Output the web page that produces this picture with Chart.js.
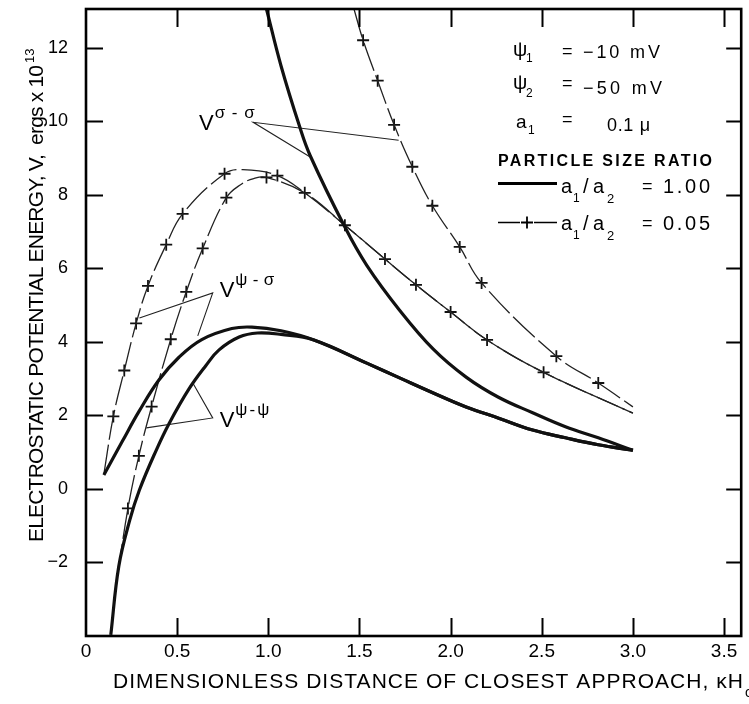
<!DOCTYPE html>
<html>
<head>
<meta charset="utf-8">
<title>Electrostatic potential energy</title>
<script src="https://cdn.jsdelivr.net/npm/chart.js@4.4.1/dist/chart.umd.min.js"></script>
<style>
  html, body { margin: 0; padding: 0; background: #fff; }
  #wrap { width: 749px; height: 704px; }
</style>
</head>
<body>
<div id="wrap"><canvas id="chart" width="749" height="704"></canvas></div>
<script>
// ticks
var xTickValues = [0, 0.5, 1.0, 1.5, 2.0, 2.5, 3.0, 3.5];
var xTickLabels = ['0', '0.5', '1.0', '1.5', '2.0', '2.5', '3.0', '3.5'];
var yTickValues = [-2, 0, 2, 4, 6, 8, 10, 12];
var yTickLabels = ['\u22122', '0', '2', '4', '6', '8', '10', '12'];

// a1/a2 = 1.00 (solid curves)
var psiPsiX = [0.136, 0.18, 0.24, 0.293, 0.385, 0.456, 0.565, 0.657, 0.73, 0.84, 0.94, 1.07];
var psiPsiY = [-3.97, -2.1, -0.85, -0.03, 1.05, 1.78, 2.72, 3.35, 3.78, 4.13, 4.24, 4.2];
var psiSigX = [0.098, 0.2, 0.29, 0.4, 0.51, 0.635, 0.8, 0.91, 1.07];
var psiSigY = [0.38, 1.3, 2.1, 2.96, 3.58, 4.06, 4.36, 4.4, 4.3];
var psiTailX = [1.25, 1.54, 1.72, 1.905, 2.085, 2.26, 2.45, 2.63, 2.81, 3.0];
var psiTailY = [4.05, 3.42, 3.02, 2.61, 2.23, 1.93, 1.6, 1.39, 1.2, 1.05];
var sigSigX = [0.99, 1.07, 1.17, 1.23, 1.42, 1.54, 1.72, 1.905, 2.085, 2.26, 2.45, 2.63, 2.81, 3.0];
var sigSigY = [13.05, 11.5, 9.88, 9.06, 7.12, 6.08, 4.86, 3.8, 3.04, 2.5, 2.07, 1.69, 1.39, 1.05];

// a1/a2 = 0.05 (dashed curves with crosses)
var dPsiSigX = [0.098, 0.15, 0.21, 0.275, 0.34, 0.44, 0.53, 0.76, 0.86, 1.05];
var dPsiSigY = [0.4, 1.97, 3.22, 4.5, 5.52, 6.64, 7.48, 8.57, 8.68, 8.52];
var dPsiPsiX = [0.175, 0.23, 0.29, 0.36, 0.465, 0.55, 0.64, 0.77, 0.85, 0.92, 0.99];
var dPsiPsiY = [-2.3, -0.53, 0.9, 2.24, 4.07, 5.36, 6.54, 7.92, 8.28, 8.44, 8.47];
var dTailX = [1.2, 1.42, 1.64, 1.81, 2.0, 2.2, 2.51, 3.0];
var dTailY = [8.05, 7.17, 6.25, 5.55, 4.81, 4.05, 3.17, 2.06];
var dSigSigX = [1.47, 1.52, 1.6, 1.69, 1.79, 1.9, 2.05, 2.17, 2.58, 2.81, 3.0];
var dSigSigY = [13.05, 12.2, 11.1, 9.9, 8.76, 7.7, 6.58, 5.6, 3.61, 2.88, 2.23];

// points marked with a cross
var crossX = [0.15, 0.21, 0.275, 0.34, 0.44, 0.53, 0.76, 1.05,
              0.23, 0.29, 0.36, 0.465, 0.55, 0.64, 0.77, 0.99,
              1.2, 1.42, 1.64, 1.81, 2.0, 2.2, 2.51,
              1.52, 1.6, 1.69, 1.79, 1.9, 2.05, 2.17, 2.58, 2.81];
var crossY = [1.97, 3.22, 4.5, 5.52, 6.64, 7.48, 8.57, 8.52,
              -0.53, 0.9, 2.24, 4.07, 5.36, 6.54, 7.92, 8.47,
              8.05, 7.17, 6.25, 5.55, 4.81, 4.05, 3.17,
              12.2, 11.1, 9.9, 8.76, 7.7, 6.58, 5.6, 3.61, 2.88];

// curve labels and leader lines
var noteSups = ['\u03c3-\u03c3', '\u03c8-\u03c3', '\u03c8-\u03c8'];
var noteX = [0.62, 0.733, 0.733];
var noteY = [9.76, 5.22, 1.68];
var leadSigX = [1.232, 0.917, 1.715];
var leadSigY = [9.02, 9.97, 9.48];
var leadPsiSigX = [0.293, 0.695, 0.613];
var leadPsiSigY = [4.65, 5.33, 4.16];
var leadPsiPsiX = [0.586, 0.695, 0.331];
var leadPsiPsiY = [2.88, 1.93, 1.66];

var FONT = '"Liberation Sans", Arial, sans-serif';

function pts(xs, ys) {
  return xs.map(function (x, i) { return { x: x, y: ys[i] }; });
}

function solidLine(xs, ys) {
  return { data: pts(xs, ys), showLine: true, borderColor: '#111', borderWidth: 3.2,
           pointRadius: 0, tension: 0.4 };
}
function dashLine(xs, ys) {
  return { data: pts(xs, ys), showLine: true, borderColor: '#222', borderWidth: 1.3,
           borderDash: [30, 5], pointRadius: 0, tension: 0.4 };
}
function leader(xs, ys) {
  return { data: pts(xs, ys), showLine: true, borderColor: '#222', borderWidth: 1.1,
           pointRadius: 0, tension: 0 };
}

// text squeezed or stretched to a given width
function spaced(ctx, text, x, y, width) {
  ctx.letterSpacing = '0px';
  var w = ctx.measureText(text).width;
  var sp = text.length > 1 ? (width - w) / (text.length - 1) : 0;
  ctx.letterSpacing = sp + 'px';
  ctx.fillText(text, x, y);
  ctx.letterSpacing = '0px';
}
function txt(ctx, text, x, y, size, width, weight) {
  ctx.font = (weight || '') + ' ' + size + 'px ' + FONT;
  if (width) spaced(ctx, text, x, y, width); else ctx.fillText(text, x, y);
}
function crossMark(ctx, x, y) {
  ctx.beginPath();
  ctx.moveTo(x - 6, y); ctx.lineTo(x + 6, y);
  ctx.moveTo(x, y - 6); ctx.lineTo(x, y + 6);
  ctx.stroke();
}

var decor = {
  id: 'decor',
  afterDraw: function (chart) {
    var ctx = chart.ctx, a = chart.chartArea;
    var xs = chart.scales.x, ys = chart.scales.y;
    ctx.save();
    ctx.strokeStyle = '#000';
    ctx.fillStyle = '#000';
    ctx.textAlign = 'left';
    ctx.textBaseline = 'alphabetic';

    // frame
    ctx.lineWidth = 2.6;
    ctx.strokeRect(a.left, a.top, a.right - a.left, a.bottom - a.top);

    // inward ticks on all four sides
    ctx.lineWidth = 2;
    ctx.beginPath();
    xTickValues.forEach(function (v) {
      if (v === 0) return;
      var p = Math.round(xs.getPixelForValue(v)) + 0.5;
      ctx.moveTo(p, a.bottom); ctx.lineTo(p, a.bottom - 18);
      ctx.moveTo(p, a.top); ctx.lineTo(p, a.top + 18);
    });
    yTickValues.forEach(function (v) {
      var p = Math.round(ys.getPixelForValue(v)) + 0.5;
      ctx.moveTo(a.left, p); ctx.lineTo(a.left + 17, p);
      ctx.moveTo(a.right, p); ctx.lineTo(a.right - 15, p);
    });
    ctx.stroke();

    // x title
    txt(ctx, 'DIMENSIONLESS DISTANCE OF CLOSEST APPROACH, \u03baH', 113, 688, 21, 630);
    txt(ctx, 'o', 745, 697, 14);

    // y title (rotated)
    ctx.save();
    ctx.translate(43, 542);
    ctx.rotate(-Math.PI / 2);
    txt(ctx, 'ELECTROSTATIC POTENTIAL ENERGY, V,  ergs x 10', 0, 0, 21, 477);
    txt(ctx, '13', 479, -9, 13);
    ctx.restore();

    // curve labels
    noteSups.forEach(function (s, i) {
      var px = xs.getPixelForValue(noteX[i]);
      var py = ys.getPixelForValue(noteY[i]);
      txt(ctx, 'V', px, py, 22);
      var w = ctx.measureText('V').width;
      txt(ctx, s, px + w + 1, py - 12, 17, [40, 39, 34][i]);
    });

    // parameter block
    txt(ctx, '\u03c8', 513, 56, 20);
    txt(ctx, '1', 526, 62, 12);
    txt(ctx, '=', 562, 57, 18);
    txt(ctx, '\u221210 mV', 583, 58, 18, 77);

    txt(ctx, '\u03c8', 513, 89, 20);
    txt(ctx, '2', 526, 97, 12);
    txt(ctx, '=', 562, 89, 18);
    txt(ctx, '\u221250 mV', 583, 94, 18, 79);

    txt(ctx, 'a', 516, 128, 19);
    txt(ctx, '1', 528, 134, 12);
    txt(ctx, '=', 562, 125, 18);
    txt(ctx, '0.1 \u03bc', 607, 131, 18, 43);

    txt(ctx, 'PARTICLE SIZE RATIO', 498, 166, 16, 214, 'bold');

    // legend samples
    ctx.lineWidth = 3.2;
    ctx.beginPath(); ctx.moveTo(498, 183.5); ctx.lineTo(557, 183.5); ctx.stroke();
    ctx.lineWidth = 1.3;
    ctx.beginPath();
    ctx.moveTo(498, 222.5); ctx.lineTo(520, 222.5);
    ctx.moveTo(534, 222.5); ctx.lineTo(557, 222.5);
    ctx.stroke();
    ctx.lineWidth = 1.8;
    crossMark(ctx, 527, 222.5);

    [[193, '1.00'], [230, '0.05']].forEach(function (r) {
      var b = r[0];
      txt(ctx, 'a', 561, b, 20);
      txt(ctx, '1', 573, b + 9, 12);
      txt(ctx, '/', 583, b, 20);
      txt(ctx, 'a', 593, b, 20);
      txt(ctx, '2', 607, b + 10, 13);
      txt(ctx, '=', 642, b - 1, 18);
      txt(ctx, r[1], 663, b, 20, 47);
    });

    ctx.restore();
  }
};

var crossSet = {
  data: pts(crossX, crossY), showLine: false, pointStyle: 'cross',
  pointRadius: 6, pointBorderWidth: 1.8, pointBorderColor: '#111', pointBackgroundColor: '#111'
};

new Chart(document.getElementById('chart'), {
  type: 'scatter',
  data: {
    datasets: [
      solidLine(psiPsiX.concat(psiTailX), psiPsiY.concat(psiTailY)),
      solidLine(psiSigX.concat(psiTailX), psiSigY.concat(psiTailY)),
      solidLine(sigSigX, sigSigY),
      dashLine(dPsiSigX.concat(dTailX), dPsiSigY.concat(dTailY)),
      dashLine(dPsiPsiX.concat(dTailX), dPsiPsiY.concat(dTailY)),
      dashLine(dSigSigX, dSigSigY),
      crossSet,
      leader(leadSigX, leadSigY),
      leader(leadPsiSigX, leadPsiSigY),
      leader(leadPsiPsiX, leadPsiPsiY)
    ]
  },
  options: {
    responsive: false,
    animation: false,
    events: [],
    layout: { padding: { left: 0, top: 9, right: 1, bottom: 0 } },
    plugins: { legend: { display: false }, tooltip: { enabled: false } },
    scales: {
      x: {
        type: 'linear', min: 0, max: 3.594,
        grid: { display: false, drawTicks: false },
        border: { display: false },
        afterBuildTicks: function (s) { s.ticks = xTickValues.map(function (v) { return { value: v }; }); },
        afterFit: function (s) { s.height = 68; s.paddingLeft = 0; s.paddingRight = 0; },
        ticks: {
          padding: 4, maxRotation: 0, autoSkip: false, color: '#000',
          font: { family: FONT, size: 19 },
          callback: function (v) { var i = xTickValues.indexOf(v); return i < 0 ? '' : xTickLabels[i]; }
        }
      },
      y: {
        type: 'linear', min: -4, max: 13.05,
        grid: { display: false, drawTicks: false },
        border: { display: false },
        afterBuildTicks: function (s) { s.ticks = yTickValues.map(function (v) { return { value: v }; }); },
        afterFit: function (s) { s.width = 86; s.paddingTop = 0; s.paddingBottom = 0; },
        ticks: {
          padding: 18, autoSkip: false, color: '#000',
          font: { family: FONT, size: 18 },
          callback: function (v) { var i = yTickValues.indexOf(v); return i < 0 ? '' : yTickLabels[i]; }
        }
      }
    }
  },
  plugins: [decor]
});
</script>
</body>
</html>
